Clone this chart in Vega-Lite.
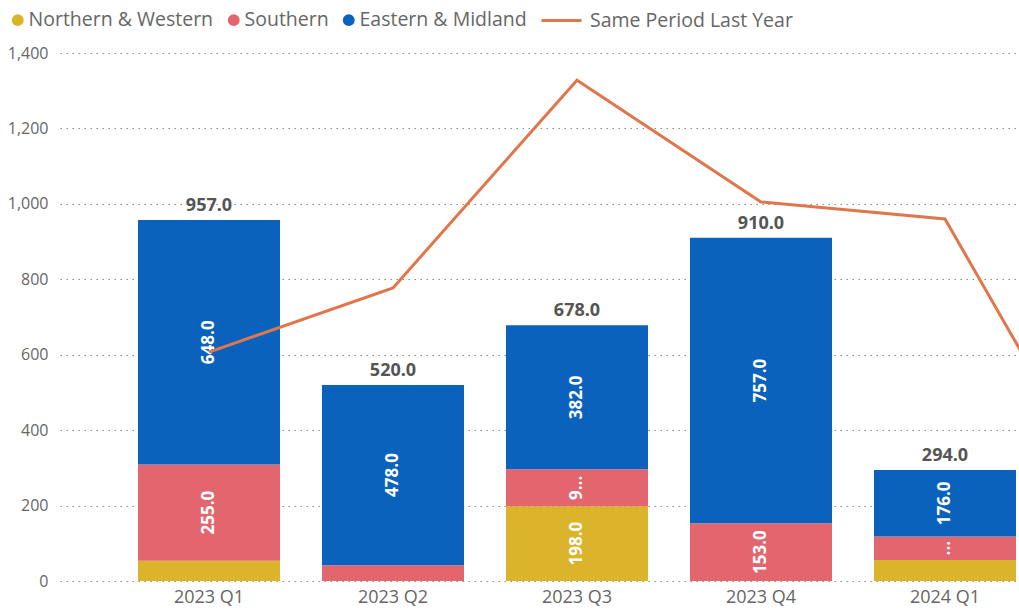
{
  "$schema": "https://vega.github.io/schema/vega-lite/v6.json",
  "autosize": {"type": "none"},
  "padding": {"left": 60, "top": 53, "right": 0, "bottom": 31},
  "width": 959,
  "height": 528,
  "background": "white",
  "config": {
    "font": "Open Sans",
    "view": {"stroke": null},
    "axis": {"labelFont": "Open Sans", "title": null}
  },
  "datasets": {
    "bars": [
      {"quarter": "2023 Q1", "series": "Northern & Western", "value": 54, "label": ""},
      {"quarter": "2023 Q1", "series": "Southern", "value": 255, "label": "255.0"},
      {"quarter": "2023 Q1", "series": "Eastern & Midland", "value": 648, "label": "648.0"},
      {"quarter": "2023 Q2", "series": "Southern", "value": 42, "label": ""},
      {"quarter": "2023 Q2", "series": "Eastern & Midland", "value": 478, "label": "478.0"},
      {"quarter": "2023 Q3", "series": "Northern & Western", "value": 198, "label": "198.0"},
      {"quarter": "2023 Q3", "series": "Southern", "value": 98, "label": "9..."},
      {"quarter": "2023 Q3", "series": "Eastern & Midland", "value": 382, "label": "382.0"},
      {"quarter": "2023 Q4", "series": "Southern", "value": 153, "label": "153.0"},
      {"quarter": "2023 Q4", "series": "Eastern & Midland", "value": 757, "label": "757.0"},
      {"quarter": "2024 Q1", "series": "Northern & Western", "value": 56, "label": ""},
      {"quarter": "2024 Q1", "series": "Southern", "value": 62, "label": "..."},
      {"quarter": "2024 Q1", "series": "Eastern & Midland", "value": 176, "label": "176.0"}
    ],
    "line": [
      {"quarter": "2023 Q1", "lastYear": 607},
      {"quarter": "2023 Q2", "lastYear": 777},
      {"quarter": "2023 Q3", "lastYear": 1328},
      {"quarter": "2023 Q4", "lastYear": 1005},
      {"quarter": "2024 Q1", "lastYear": 960},
      {"quarter": "2024 Q2", "lastYear": 110}
    ]
  },
  "encoding": {
    "x": {
      "field": "quarter",
      "type": "nominal",
      "sort": null,
      "scale": {
        "domain": ["2023 Q1", "2023 Q2", "2023 Q3", "2023 Q4", "2024 Q1", "2024 Q2"],
        "range": [0, 1218],
        "paddingInner": 0.2283,
        "paddingOuter": 0.424
      },
      "axis": {
        "values": ["2023 Q1", "2023 Q2", "2023 Q3", "2023 Q4", "2024 Q1"],
        "labelAngle": 0,
        "labelFontSize": 18,
        "labelColor": "#666666",
        "ticks": false,
        "domain": false,
        "grid": false,
        "labelPadding": 7
      }
    }
  },
  "layer": [
    {
      "data": {"name": "bars"},
      "transform": [
        {"calculate": "indexof(['Northern & Western','Southern','Eastern & Midland'], datum.series)", "as": "order"},
        {"stack": "value", "groupby": ["quarter"], "sort": [{"field": "order", "order": "ascending"}], "as": ["v0", "v1"]}
      ],
      "mark": {"type": "bar"},
      "encoding": {
        "y": {
          "field": "v0",
          "type": "quantitative",
          "scale": {"domain": [0, 1400], "nice": false, "zero": true},
          "axis": {
            "values": [0, 200, 400, 600, 800, 1000, 1200, 1400],
            "format": ",.0f",
            "labelFontSize": 16,
            "labelColor": "#666666",
            "ticks": false,
            "domain": false,
            "grid": true,
            "gridDash": [1.5, 4.5],
            "gridColor": "#8a8a8a",
            "gridWidth": 1,
            "labelPadding": 12
          }
        },
        "y2": {"field": "v1"},
        "color": {
          "field": "series",
          "type": "nominal",
          "scale": {
            "domain": ["Northern & Western", "Southern", "Eastern & Midland"],
            "range": ["#DBB42C", "#E3666F", "#0A62BD"]
          },
          "legend": {
            "orient": "none",
            "legendX": -52,
            "legendY": -43,
            "direction": "horizontal",
            "title": null,
            "symbolType": "circle",
            "symbolSize": 140,
            "labelFontSize": 19.5,
            "labelColor": "#666666",
            "labelOffset": 1,
            "labelLimit": 400,
            "columnPadding": 10
          }
        }
      }
    },
    {
      "data": {"name": "bars"},
      "transform": [
        {"calculate": "indexof(['Northern & Western','Southern','Eastern & Midland'], datum.series)", "as": "order"},
        {"stack": "value", "groupby": ["quarter"], "sort": [{"field": "order", "order": "ascending"}], "as": ["v0", "v1"]},
        {"calculate": "(datum.v0 + datum.v1) / 2", "as": "mid"},
        {"filter": "datum.label != ''"}
      ],
      "mark": {"type": "text", "angle": 270, "color": "white", "fontWeight": "bold", "fontSize": 17, "align": "center", "baseline": "middle"},
      "encoding": {
        "y": {"field": "mid", "type": "quantitative"},
        "text": {"field": "label"}
      }
    },
    {
      "data": {"name": "bars"},
      "transform": [
        {"aggregate": [{"op": "sum", "field": "value", "as": "total"}], "groupby": ["quarter"]}
      ],
      "mark": {"type": "text", "fontWeight": "bold", "fontSize": 18, "color": "#555555", "align": "center", "baseline": "alphabetic", "dy": -9},
      "encoding": {
        "y": {"field": "total", "type": "quantitative"},
        "text": {"field": "total", "type": "quantitative", "format": ".1f"}
      }
    },
    {
      "data": {"name": "line"},
      "mark": {"type": "line", "strokeWidth": 3, "clip": true},
      "encoding": {
        "y": {"field": "lastYear", "type": "quantitative"},
        "stroke": {
          "datum": "Same Period Last Year",
          "type": "nominal",
          "scale": {"domain": ["Same Period Last Year"], "range": ["#E0764C"]},
          "legend": {
            "orient": "none",
            "legendX": 480,
            "legendY": -54,
            "title": null,
            "symbolType": "stroke",
            "symbolSize": 1600,
            "symbolStrokeWidth": 3,
            "labelFontSize": 19.5,
            "labelColor": "#666666",
            "labelOffset": 7,
            "labelLimit": 400
          }
        }
      }
    }
  ]
}
